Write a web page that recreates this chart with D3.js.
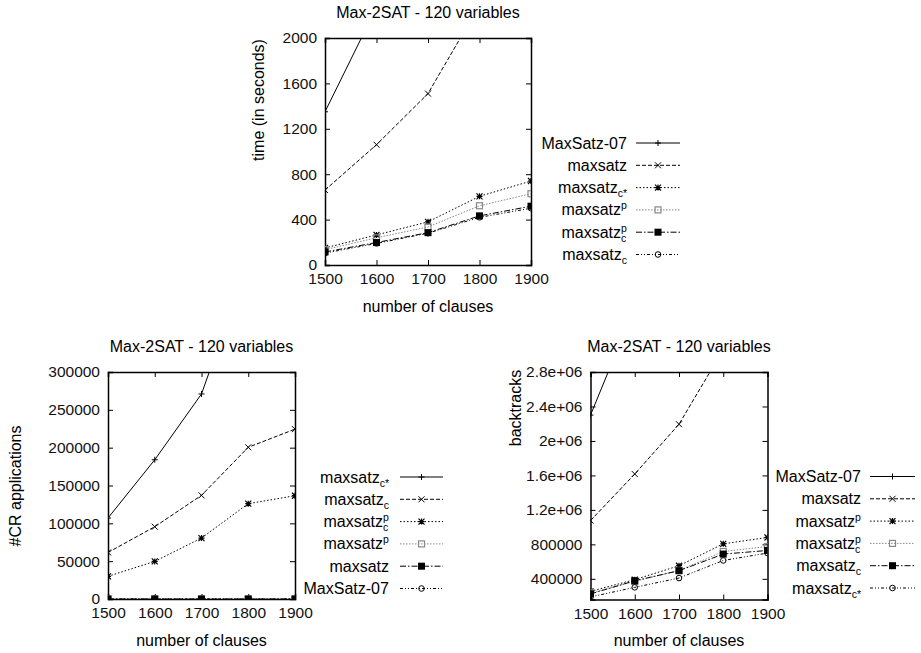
<!DOCTYPE html>
<html>
<head>
<meta charset="utf-8">
<script src="https://cdn.jsdelivr.net/npm/d3@7"></script>
<style>
  body { margin: 0; background: #fff; }
  svg { font-family: "Liberation Sans", Arial, Helvetica, sans-serif; }
</style>
</head>
<body>
<svg id="chart" width="921" height="653"></svg>
<script>
// x values shared by all three panels
const clauses = [1500, 1600, 1700, 1800, 1900];

// top panel: time (in seconds)
const timeLabels = ["MaxSatz-07", "maxsatz", "maxsatz_c*", "maxsatz^p", "maxsatz_c^p", "maxsatz_c"];
const time07 = [1350, 2270, 3400, 5000, 7000];
const timeMaxsatz = [660, 1060, 1510, 2290, 3200];
const timeCstar = [150, 265, 380, 605, 740];
const timeP = [135, 240, 335, 522, 628];
const timeCP = [115, 198, 285, 433, 518];
const timeC = [105, 190, 280, 420, 500];
const timeTicks = [0, 400, 800, 1200, 1600, 2000];

// bottom-left panel: #CR applications
const crLabels = ["maxsatz_c*", "maxsatz_c", "maxsatz_c^p", "maxsatz^p", "maxsatz", "MaxSatz-07"];
const crCstar = [107000, 184000, 271000, 445000, 620000];
const crC = [61500, 95500, 137000, 200500, 224500];
const crCP = [30000, 49700, 80500, 126000, 136500];
const crP = [0, 0, 0, 0, 0];
const crMaxsatz = [0, 0, 0, 0, 0];
const cr07 = [0, 0, 0, 0, 0];
const crTicks = [0, 50000, 100000, 150000, 200000, 250000, 300000];

// bottom-right panel: backtracks
const btLabels = ["MaxSatz-07", "maxsatz", "maxsatz^p", "maxsatz_c^p", "maxsatz_c", "maxsatz_c*"];
const bt07 = [2300000, 3550000, 5000000, 7000000, 9500000];
const btMaxsatz = [1076000, 1616000, 2194000, 3060000, 4100000];
const btP = [255000, 390000, 552000, 806000, 880000];
const btCP = [236000, 370000, 497000, 717000, 775000];
const btC = [224000, 378000, 494000, 687000, 729000];
const btCstar = [190000, 301000, 409000, 613000, 699000];
const btTicks = [400000, 800000, 1200000, 1600000, 2000000, 2400000, 2800000];
const btTickLabels = ["400000", "800000", "1.2e+06", "1.6e+06", "2e+06", "2.4e+06", "2.8e+06"];

// gnuplot style order: line dash, colour, point type
const styles = [
  { dash: null, color: "#000", pt: "plus" },
  { dash: "4,2", color: "#000", pt: "cross" },
  { dash: "1.5,2", color: "#000", pt: "star" },
  { dash: "1.5,1.5", color: "#888", pt: "box" },
  { dash: "6,2,1.5,2", color: "#000", pt: "fbox" },
  { dash: "3,2,1,2,1,2", color: "#000", pt: "circle" }
];

const svg = d3.select("#chart");

function drawPoint(g, type, x, y, color) {
  const s = 3;
  if (type === "plus") {
    g.append("path").attr("d", `M${x - s},${y}H${x + s}M${x},${y - s}V${y + s}`)
      .attr("stroke", color).attr("stroke-width", 1);
  } else if (type === "cross") {
    g.append("path").attr("d", `M${x - s},${y - s}L${x + s},${y + s}M${x - s},${y + s}L${x + s},${y - s}`)
      .attr("stroke", color).attr("stroke-width", 1);
  } else if (type === "star") {
    g.append("path").attr("d", `M${x - s},${y}H${x + s}M${x},${y - s}V${y + s}M${x - s},${y - s}L${x + s},${y + s}M${x - s},${y + s}L${x + s},${y - s}`)
      .attr("stroke", color).attr("stroke-width", 1.2);
  } else if (type === "box") {
    g.append("rect").attr("x", x - 3).attr("y", y - 3).attr("width", 6).attr("height", 6)
      .attr("fill", "none").attr("stroke", color).attr("stroke-width", 1.2);
  } else if (type === "fbox") {
    g.append("rect").attr("x", x - 3.5).attr("y", y - 3.5).attr("width", 7).attr("height", 7)
      .attr("fill", color);
  } else if (type === "circle") {
    g.append("circle").attr("cx", x).attr("cy", y).attr("r", 2.8)
      .attr("fill", "none").attr("stroke", color).attr("stroke-width", 1);
  }
}

// label like "maxsatz_c^p": one text element, sub/superscript as tspans
function drawLabel(g, label, xRight, y) {
  const m = label.match(/^([^_^]+)(?:_([^\^]+))?(?:\^(.+))?$/);
  const grp = g.append("g");
  const txt = grp.append("text").attr("x", 0).attr("y", y + 5.5).attr("font-size", 16);
  const base = txt.append("tspan").text(m[1]);
  const w = base.node().getComputedTextLength();
  if (m[3]) {
    txt.append("tspan").attr("x", w).attr("y", y - 0.5).attr("font-size", 10.5).text(m[3]);
  }
  if (m[2]) {
    txt.append("tspan").attr("x", w).attr("y", y + 9.5).attr("font-size", 10.5).text(m[2]);
  }
  const bb = txt.node().getBBox();
  grp.attr("transform", `translate(${xRight - (bb.x + bb.width)},0)`);
}

function drawPanel({ id, box, yDomain, yTicks, yTickLabels, series, labels, title, ylabel, ylabelPos, legend }) {
  const g = svg.append("g");
  const x = d3.scaleLinear().domain([1500, 1900]).range([box.left, box.right]);
  const y = d3.scaleLinear().domain(yDomain).range([box.bottom, box.top]);

  g.append("clipPath").attr("id", "clip-" + id)
    .append("rect").attr("x", box.left).attr("y", box.top)
    .attr("width", box.right - box.left).attr("height", box.bottom - box.top);

  // axes: ticks inside, mirrored on the opposite side
  const fmt = yTickLabels ? (d, i) => yTickLabels[i] : d3.format("d");
  const axes = [
    g.append("g").attr("transform", `translate(0,${box.bottom})`)
      .call(d3.axisBottom(x).tickValues(clauses).tickSize(-5).tickPadding(8).tickFormat(d3.format("d"))),
    g.append("g").attr("transform", `translate(0,${box.top})`)
      .call(d3.axisTop(x).tickValues(clauses).tickSize(-5).tickFormat("")),
    g.append("g").attr("transform", `translate(${box.left},0)`)
      .call(d3.axisLeft(y).tickValues(yTicks).tickSize(-5).tickPadding(8).tickFormat(fmt)),
    g.append("g").attr("transform", `translate(${box.right},0)`)
      .call(d3.axisRight(y).tickValues(yTicks).tickSize(-5).tickFormat(""))
  ];
  axes.forEach(a => {
    a.select(".domain").attr("stroke", "#000").attr("stroke-width", 1.5);
    a.selectAll(".tick line").attr("stroke", "#000").attr("stroke-width", 1);
    a.selectAll(".tick text").attr("font-size", 15.5).attr("fill", "#111")
      .attr("font-family", "Liberation Sans, Arial, sans-serif");
  });

  // series
  const plot = g.append("g").attr("clip-path", `url(#clip-${id})`);
  const line = d3.line().x((d, i) => x(clauses[i])).y(d => y(d));
  series.forEach((vals, k) => {
    const st = styles[k];
    plot.append("path").attr("d", line(vals)).attr("fill", "none")
      .attr("stroke", st.color).attr("stroke-width", 1)
      .attr("stroke-dasharray", st.dash);
    vals.forEach((v, i) => {
      if (v <= yDomain[1]) drawPoint(plot, st.pt, x(clauses[i]), y(v), st.color);
    });
  });

  // legend
  labels.forEach((lab, k) => {
    const st = styles[k];
    const ly = legend.y + k * 22.3;
    drawLabel(g, lab, legend.textRight, ly);
    g.append("line").attr("x1", legend.x1).attr("x2", legend.x2).attr("y1", ly).attr("y2", ly)
      .attr("stroke", st.color).attr("stroke-width", 1).attr("stroke-dasharray", st.dash);
    drawPoint(g, st.pt, (legend.x1 + legend.x2) / 2, ly, st.color);
  });

  // titles
  g.append("text").attr("x", (box.left + box.right) / 2).attr("y", box.top - 26)
    .attr("dy", "0.35em").attr("text-anchor", "middle").attr("font-size", 16).text(title);
  g.append("text").attr("x", (box.left + box.right) / 2).attr("y", box.bottom + 41)
    .attr("dy", "0.35em").attr("text-anchor", "middle").attr("font-size", 16).text("number of clauses");
  g.append("text").attr("transform", `translate(${ylabelPos[0]},${ylabelPos[1]}) rotate(-90)`)
    .attr("dy", "0.35em").attr("text-anchor", "middle").attr("font-size", 16).text(ylabel);
}

drawPanel({
  id: "time",
  box: { left: 325, right: 531, top: 38, bottom: 265 },
  yDomain: [0, 2000], yTicks: timeTicks,
  series: [time07, timeMaxsatz, timeCstar, timeP, timeCP, timeC],
  labels: timeLabels,
  title: "Max-2SAT - 120 variables",
  ylabel: "time (in seconds)", ylabelPos: [258, 100],
  legend: { textRight: 627, x1: 636, x2: 680, y: 143 }
});

drawPanel({
  id: "cr",
  box: { left: 108, right: 295, top: 372, bottom: 599 },
  yDomain: [0, 300000], yTicks: crTicks,
  series: [crCstar, crC, crCP, crP, crMaxsatz, cr07],
  labels: crLabels,
  title: "Max-2SAT - 120 variables",
  ylabel: "#CR applications", ylabelPos: [15, 486],
  legend: { textRight: 389, x1: 400, x2: 443, y: 477 }
});

drawPanel({
  id: "bt",
  box: { left: 590.5, right: 767.5, top: 372, bottom: 599.5 },
  yDomain: [160000, 2800000], yTicks: btTicks, yTickLabels: btTickLabels,
  series: [bt07, btMaxsatz, btP, btCP, btC, btCstar],
  labels: btLabels,
  title: "Max-2SAT - 120 variables",
  ylabel: "backtracks", ylabelPos: [515, 408],
  legend: { textRight: 861, x1: 870, x2: 915, y: 476.5 }
});
</script>
</body>
</html>
